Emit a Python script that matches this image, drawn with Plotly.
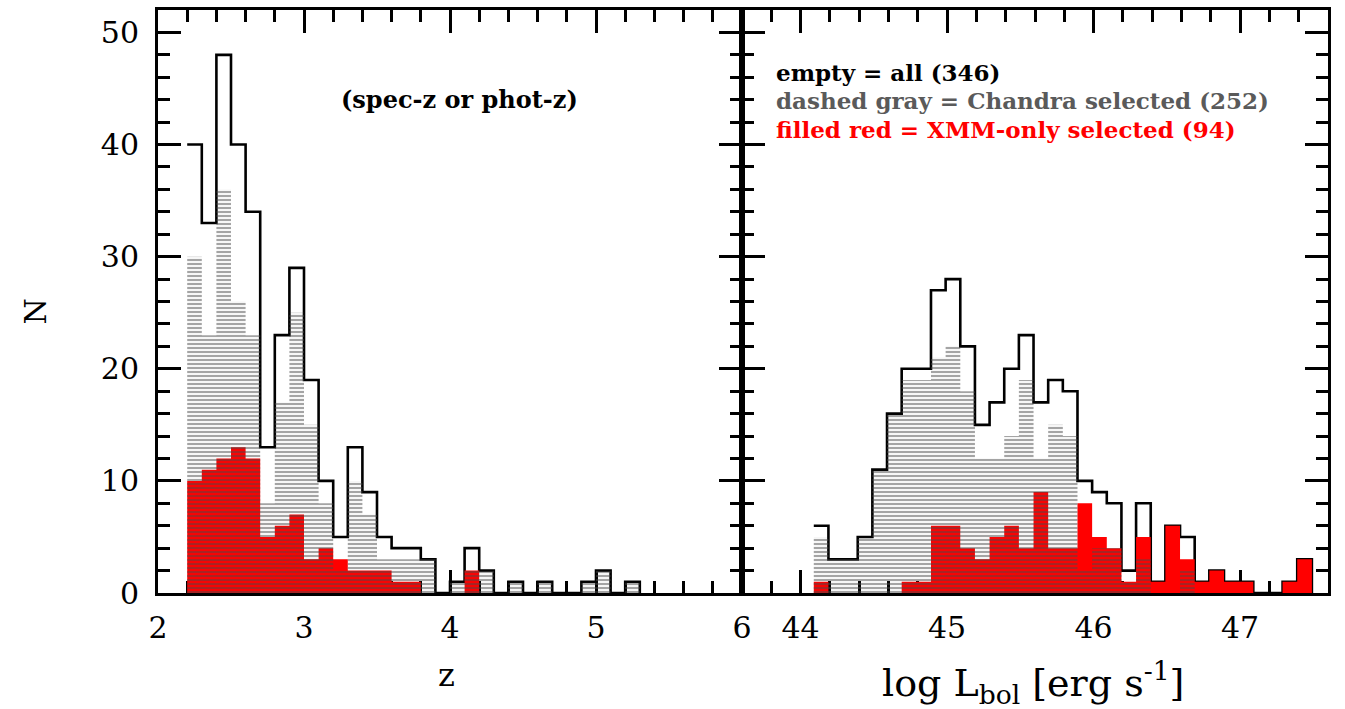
import numpy as np
import plotly.graph_objects as go

# ---------------- data ----------------
# redshift histogram, bin width 0.1, left edges from 2.2
z_left = [2.2, 2.3, 2.4, 2.5, 2.6, 2.7, 2.8, 2.9, 3.0, 3.1, 3.2, 3.3, 3.4, 3.5, 3.6, 3.7,
          3.8, 3.9, 4.0, 4.1, 4.2, 4.3, 4.4, 4.5, 4.6, 4.7, 4.8, 4.9, 5.0, 5.1, 5.2]
z_all = [40, 33, 48, 40, 34, 13, 23, 29, 19, 10, 5, 13, 9, 5, 4, 4,
         3, 0, 1, 4, 2, 0, 1, 0, 1, 0, 0, 1, 2, 0, 1]
z_chandra = [30, 23, 36, 26, 23, 8, 17, 25, 15, 8, 2, 10, 7, 3, 3, 3,
             3, 0, 1, 2, 2, 0, 1, 0, 1, 0, 0, 1, 2, 0, 1]
z_xmm = [10, 11, 12, 13, 12, 5, 6, 7, 3, 4, 3, 2, 2, 2, 1, 1,
         0, 0, 0, 2, 0, 0, 0, 0, 0, 0, 0, 0, 0, 0, 0]

# log Lbol histogram, bin width 0.1, left edges from 44.09
l_left = [44.09, 44.19, 44.29, 44.39, 44.49, 44.59, 44.69, 44.79, 44.89, 44.99,
          45.09, 45.19, 45.29, 45.39, 45.49, 45.59, 45.69, 45.79, 45.89, 45.99,
          46.09, 46.19, 46.29, 46.39, 46.49, 46.59, 46.69, 46.79, 46.89, 46.99,
          47.09, 47.19, 47.29, 47.39]
l_all = [6, 3, 3, 5, 11, 16, 20, 20, 27, 28,
         22, 15, 17, 20, 23, 17, 19, 18, 10, 9,
         8, 2, 8, 1, 6, 5, 1, 2, 1, 1,
         0, 0, 1, 3]
l_chandra = [5, 3, 3, 5, 11, 16, 19, 19, 21, 22,
             18, 12, 12, 14, 19, 12, 15, 14, 2, 4,
             4, 1, 3, 0, 0, 2, 0, 0, 0, 0,
             0, 0, 0, 0]
l_xmm = [1, 0, 0, 0, 0, 0, 1, 1, 6, 6,
         4, 3, 5, 6, 4, 9, 4, 4, 8, 5,
         4, 1, 5, 1, 6, 3, 1, 2, 1, 1,
         0, 0, 1, 3]
BIN = 0.1

z_ticks = [2, 3, 4, 5, 6]
l_ticks = [44, 45, 46, 47]

RED = "#ff0000"
GRAY = "#5a5a5a"
HATCH = "#4a4a4a"


def steps(left, vals):
    x = list(left) + [round(left[-1] + BIN, 3)]
    y = list(vals) + [0]
    return x, y


fig = go.Figure()

for (left, a, c, r, xa, ya) in [(z_left, z_all, z_chandra, z_xmm, "x", "y"),
                                (l_left, l_all, l_chandra, l_xmm, "x2", "y2")]:
    xs, ys = steps(left, a)
    fig.add_trace(go.Scatter(x=xs, y=ys, mode="lines", line_shape="hv",
                             line=dict(color="black", width=2.6),
                             xaxis=xa, yaxis=ya, hoverinfo="skip", showlegend=False))
    xs, ys = steps(left, r)
    fig.add_trace(go.Scatter(x=xs, y=ys, mode="lines", line_shape="hv",
                             line=dict(color=RED, width=0), fill="tozeroy", fillcolor=RED,
                             xaxis=xa, yaxis=ya, hoverinfo="skip", showlegend=False))
    xs, ys = steps(left, c)
    fig.add_trace(go.Scatter(x=xs, y=ys, mode="lines", line_shape="hv",
                             line=dict(color="rgba(0,0,0,0)", width=0), fill="tozeroy",
                             fillcolor="rgba(0,0,0,0)",
                             fillpattern=dict(shape="-", fgcolor=HATCH, bgcolor="rgba(0,0,0,0)",
                                              size=4, solidity=0.55),
                             xaxis=xa, yaxis=ya, hoverinfo="skip", showlegend=False))

split = 585 / 1172
tickfont = dict(family="DejaVu Serif", size=30, color="black")
common_x = dict(showline=True, linewidth=3, linecolor="black", mirror="ticks",
                ticks="inside", ticklen=23, tickwidth=2.5, tickcolor="black",
                showgrid=False, zeroline=False, layer="below traces",
                tickfont=tickfont, ticklabelstandoff=6,
                minor=dict(ticks="inside", ticklen=12, tickwidth=2.5, tickcolor="black",
                           dtick=0.2, showgrid=False))
common_y = dict(showline=True, linewidth=3, linecolor="black", mirror="ticks",
                ticks="inside", ticklen=23, tickwidth=2.5, tickcolor="black",
                showgrid=False, zeroline=False, layer="below traces",
                range=[0, 52], tickvals=[0, 10, 20, 30, 40, 50],
                tickfont=tickfont, ticklabelstandoff=10,
                minor=dict(ticks="inside", ticklen=12, tickwidth=2.5, tickcolor="black",
                           dtick=2, showgrid=False))

fig.update_layout(
    width=1345, height=709,
    margin=dict(l=158, r=15, t=7, b=116),
    paper_bgcolor="white", plot_bgcolor="white",
    xaxis=dict(common_x, domain=[0, split], range=[2, 6], tickvals=z_ticks,
               ticktext=[str(v) for v in z_ticks], anchor="y"),
    yaxis=dict(common_y, anchor="x"),
    xaxis2=dict(common_x, domain=[split, 1], range=[43.6, 47.6], tickvals=l_ticks,
                ticktext=[str(v) for v in l_ticks], anchor="y2"),
    yaxis2=dict(common_y, anchor="x2", showticklabels=False),
)

fig.add_annotation(x=4.065, y=44.0, xref="x", yref="y", text="<b>(spec-z or phot-z)</b>",
                   showarrow=False, xanchor="center", yanchor="middle",
                   font=dict(family="DejaVu Serif", size=24, color="black"))
legend_lines = [("<b>empty = all (346)</b>", "black", 46.4),
                ("<b>dashed gray = Chandra selected (252)</b>", GRAY, 43.9),
                ("<b>filled red = XMM-only selected (94)</b>", RED, 41.3)]
for txt, col, yy in legend_lines:
    fig.add_annotation(x=43.82, y=yy, xref="x2", yref="y2", text=txt,
                       xanchor="left", yanchor="middle", showarrow=False,
                       font=dict(family="DejaVu Serif", size=23, color=col))

fig.add_annotation(x=-0.105, y=0.483, xref="paper", yref="paper", text="N", textangle=-90,
                   xanchor="center", yanchor="middle", showarrow=False,
                   font=dict(family="DejaVu Serif", size=30, color="black"))
fig.add_annotation(x=0.2466, y=-0.14, xref="paper", yref="paper", text="z",
                   xanchor="center", yanchor="middle", showarrow=False,
                   font=dict(family="DejaVu Serif", size=32, color="black"))
fig.add_annotation(x=0.748, y=-0.1536, xref="paper", yref="paper",
                   text="log L<sub>bol</sub> [erg s<sup>-1</sup>]",
                   xanchor="center", yanchor="middle", showarrow=False,
                   font=dict(family="DejaVu Serif", size=38, color="black"))

fig.write_html("out.html")
